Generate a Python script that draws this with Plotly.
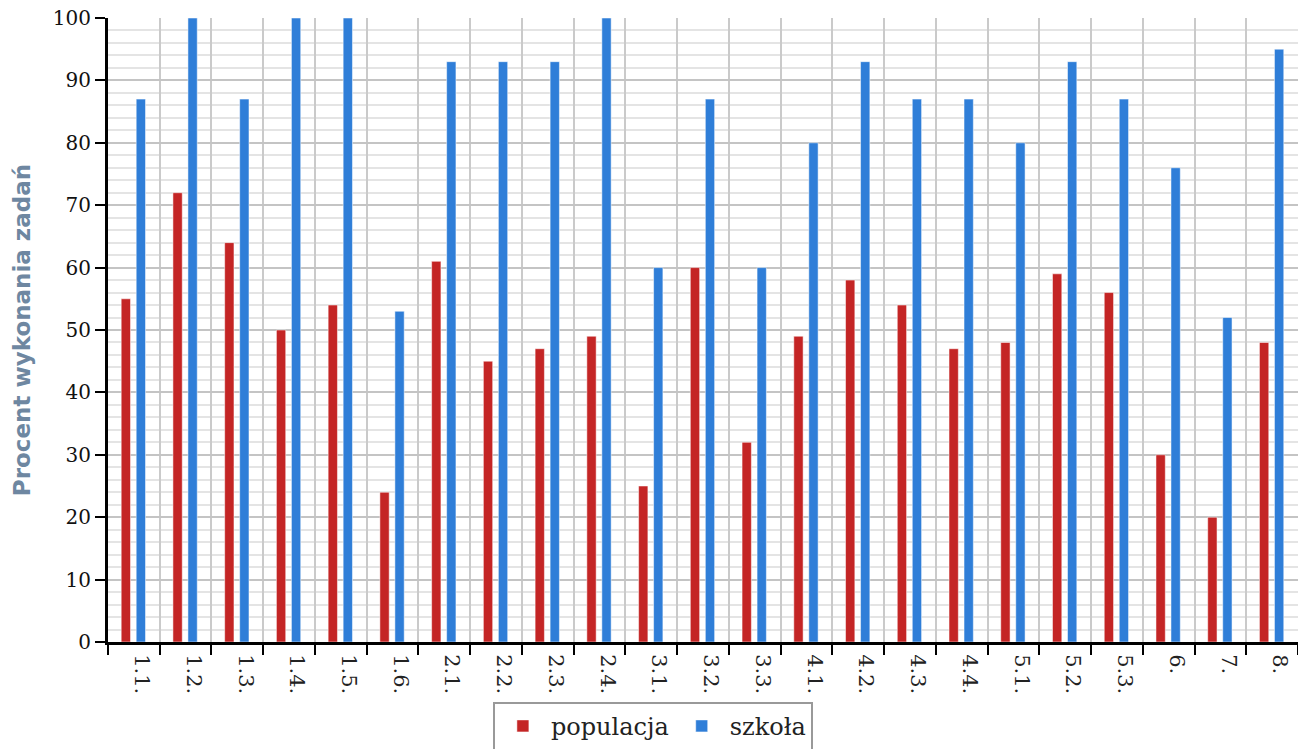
import plotly.graph_objects as go

categories = ["1.1.", "1.2.", "1.3.", "1.4.", "1.5.", "1.6.", "2.1.", "2.2.", "2.3.", "2.4.",
              "3.1.", "3.2.", "3.3.", "4.1.", "4.2.", "4.3.", "4.4.", "5.1.", "5.2.", "5.3.",
              "6.", "7.", "8."]
populacja = [55, 72, 64, 50, 54, 24, 61, 45, 47, 49, 25, 60, 32, 49, 58, 54, 47, 48, 59, 56, 30, 20, 48]
szkola = [87, 100, 87, 100, 100, 53, 93, 93, 93, 100, 60, 87, 60, 80, 93, 87, 87, 80, 93, 87, 76, 52, 95]

RED = "#c42525"
BLUE = "#2f7ed8"
SERIF = "DejaVu Serif"

fig = go.Figure()
fig.add_trace(go.Bar(x=categories, y=populacja, name="populacja", marker_color=RED,
                     marker_line_color="rgba(255,255,255,0.5)", marker_line_width=1,
                     width=0.18, offset=-0.245))
fig.add_trace(go.Bar(x=categories, y=szkola, name="szkoła", marker_color=BLUE,
                     marker_line_color="rgba(255,255,255,0.5)", marker_line_width=1,
                     width=0.18, offset=0.045))

fig.update_layout(
    width=1298, height=749,
    margin=dict(l=108, r=0, t=18, b=107, autoexpand=False),
    paper_bgcolor="white", plot_bgcolor="white",
    barmode="overlay",
    font=dict(family=SERIF, size=19, color="#222"),
    legend=dict(orientation="h", xref="container", yref="container",
                x=0.503, xanchor="center", y=0.063, yanchor="top",
                bordercolor="#999999", borderwidth=2, bgcolor="white",
                font=dict(family=SERIF, size=24, color="#222"),
                itemwidth=46, tracegroupgap=0),
)
fig.update_xaxes(
    type="category", tickson="boundaries", ticks="outside", ticklen=10, tickwidth=2,
    tickcolor="black", showline=True, linecolor="black", linewidth=3,
    showgrid=True, gridcolor="#cacaca", gridwidth=2, automargin=False,
    tickangle=90, ticklabelshift=8, ticklabelstandoff=5,
    tickfont=dict(family=SERIF, size=21, color="#222"),
    range=[-0.5, 22.5], fixedrange=True,
)
fig.update_yaxes(
    range=[0, 100], dtick=10, tick0=0, ticks="outside", ticklen=10, tickwidth=2,
    tickcolor="black", showline=True, linecolor="black", linewidth=3,
    showgrid=True, gridcolor="#c4c4c4", gridwidth=2, zeroline=False, automargin=False,
    minor=dict(dtick=2, showgrid=True, gridcolor="#e4e4e4", gridwidth=2),
    tickfont=dict(family=SERIF, size=20, color="#111"),
    fixedrange=True,
    title=dict(text="Procent wykonania zadań", standoff=16,
               font=dict(family="DejaVu Sans", size=23, color="#6e87a1", weight="bold")),
)

fig.write_html("out.html", config={"displayModeBar": False},
               post_script="document.body.style.margin='0';document.body.style.overflow='hidden';")
